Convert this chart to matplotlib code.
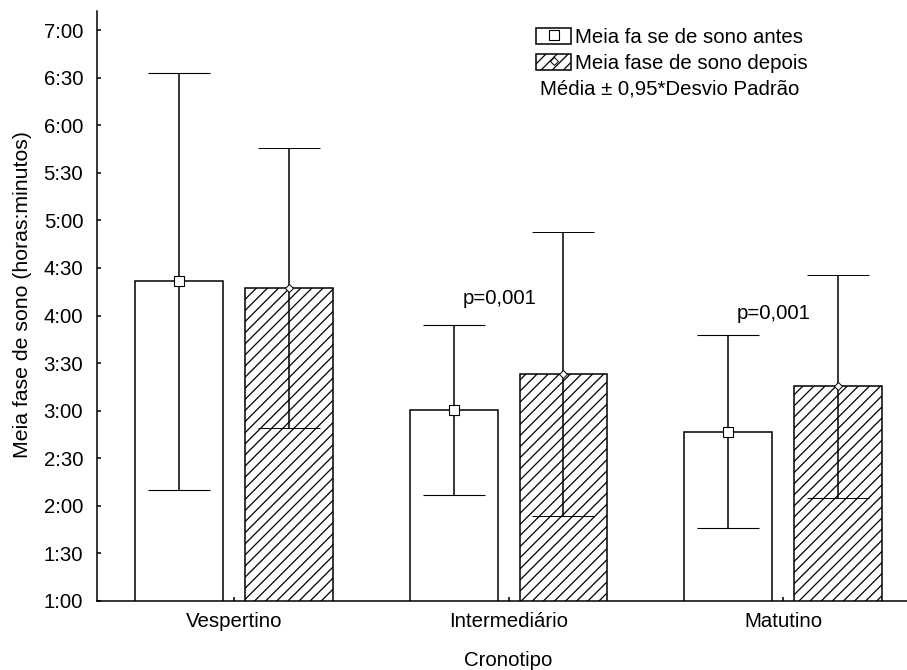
"""Mid-sleep phase before/after by chronotype, bars with 0.95*SD whiskers."""

import matplotlib

matplotlib.use("Agg")
import matplotlib.pyplot as plt
import numpy as np
from matplotlib.lines import Line2D
from matplotlib.patches import Patch
from matplotlib.ticker import FuncFormatter, MultipleLocator

# mid-sleep phase in decimal hours, whiskers are 0.95 * SD
cronotipos = ["Vespertino", "Intermediário", "Matutino"]
antes_media = [4.36, 3.01, 2.78]
antes_desvio = [2.19, 0.895, 1.01]
depois_media = [4.29, 3.385, 3.255]
depois_desvio = [1.475, 1.495, 1.17]
p_valores = ["", "p=0,001", "p=0,001"]

legenda_antes = "Meia fa se de sono antes"
legenda_depois = "Meia fase de sono depois"
nota = "Média ± 0,95*Desvio Padrão"

plt.rcParams["font.family"] = ["Liberation Sans", "DejaVu Sans"]
plt.rcParams["hatch.linewidth"] = 0.9
FS = 14.7


def hhmm(v, _pos=None):
    total = int(round(v * 60))
    return f"{total // 60}:{total % 60:02d}"


fig = plt.figure(figsize=(9.07, 6.70), dpi=100)
ax = fig.add_axes([0.107, 0.103, 0.893, 0.8806])

x = np.arange(len(cronotipos))
off, w = 0.2, 0.32
lw = 1.1

ax.bar(x - off, antes_media, width=w, bottom=0, facecolor="white",
       edgecolor="black", linewidth=lw, zorder=2)
ax.bar(x + off, depois_media, width=w, bottom=0, facecolor="white",
       edgecolor="black", linewidth=lw, hatch="///", zorder=2)

ekw = dict(ecolor="black", elinewidth=lw, capsize=22, capthick=lw, zorder=3)
ax.errorbar(x - off, antes_media, yerr=antes_desvio, fmt="s", ms=6.5,
            mfc="white", mec="black", mew=0.8, **ekw)
ax.errorbar(x + off, depois_media, yerr=depois_desvio, fmt="D", ms=4.5,
            mfc="white", mec="black", mew=0.7, **ekw)

p_y = [0, 4.18, 4.02]
for i, txt in enumerate(p_valores):
    if txt:
        ax.text(x[i] - 0.033, p_y[i], txt, ha="center", va="center", fontsize=FS)

ax.set_xlim(-0.5, 2.452)
ax.set_ylim(1.0, 7.2)
ax.yaxis.set_major_locator(MultipleLocator(0.5))
ax.yaxis.set_major_formatter(FuncFormatter(hhmm))
ax.set_xticks(x)
ax.set_xticklabels(cronotipos)
ax.tick_params(direction="in", length=3, width=lw, labelsize=FS)
ax.tick_params(axis="y", pad=10)
ax.tick_params(axis="x", pad=8)

for side in ("top", "right"):
    ax.spines[side].set_visible(False)
for side in ("left", "bottom"):
    ax.spines[side].set_linewidth(lw)

ax.set_xlabel("Cronotipo", fontsize=FS, labelpad=14, x=1.5 / 2.952)
ax.set_ylabel("Meia fase de sono (horas:minutos)", fontsize=15.3,
              labelpad=8, y=0.52)

h_antes = (Patch(facecolor="white", edgecolor="black", linewidth=lw),
           Line2D([], [], ls="none", marker="s", ms=6.5, mfc="white", mec="black", mew=0.8))
h_depois = (Patch(facecolor="white", edgecolor="black", linewidth=lw, hatch="///"),
            Line2D([], [], ls="none", marker="D", ms=4.5, mfc="white", mec="black", mew=0.7))
ax.legend([h_antes, h_depois], [legenda_antes, legenda_depois],
          loc="upper left", bbox_to_anchor=(0.5425, 0.972), frameon=False,
          fontsize=FS, handlelength=1.7, handleheight=0.85, handletextpad=0.2,
          labelspacing=0.35, borderpad=0, borderaxespad=0)
ax.text(0.547, 0.867, nota, transform=ax.transAxes, ha="left", va="center",
        fontsize=FS)

fig.savefig("out.png", dpi=100)
